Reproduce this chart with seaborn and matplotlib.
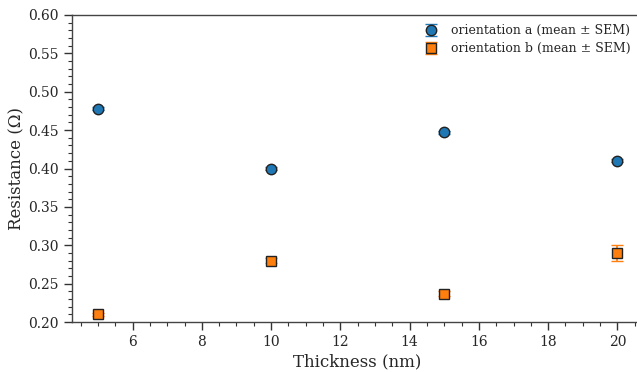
import numpy as np
import matplotlib
matplotlib.use("Agg")
import matplotlib.pyplot as plt
import seaborn as sns
from matplotlib.ticker import AutoMinorLocator

# data
thickness = [5, 10, 15, 20]
res_a = [0.478, 0.400, 0.447, 0.410]
sem_a = [0.002, 0.002, 0.002, 0.002]
res_b = [0.210, 0.280, 0.237, 0.290]
sem_b = [0.002, 0.003, 0.003, 0.010]

sns.set_theme(style="ticks")
plt.rcParams['font.family'] = ['DejaVu Serif']
plt.rcParams['mathtext.fontset'] = 'dejavuserif'

fig = plt.figure(figsize=(6.37, 3.72), dpi=100)
ax = fig.add_axes([0.113, 0.134, 0.897, 0.826])

colors = sns.color_palette("tab10")
ax.errorbar(thickness, res_a, yerr=sem_a, fmt='o', color=colors[0], ms=7.5,
            mec='#222222', mew=1.0, capsize=4, elinewidth=1.2, ecolor=colors[0],
            label='orientation a (mean ± SEM)', zorder=3)
ax.errorbar(thickness, res_b, yerr=sem_b, fmt='s', color=colors[1], ms=7.5,
            mec='#222222', mew=1.0, capsize=4, elinewidth=1.2, ecolor=colors[1],
            label='orientation b (mean ± SEM)', zorder=3)

ax.set_xlim(4.25, 20.75)
ax.set_ylim(0.20, 0.60)
ax.set_yticks(np.arange(0.20, 0.601, 0.05))
ax.set_xticks([6, 8, 10, 12, 14, 16, 18, 20])
ax.xaxis.set_minor_locator(AutoMinorLocator(4))
ax.yaxis.set_minor_locator(AutoMinorLocator(5))
ax.tick_params(which='major', length=6, width=1, labelsize=10, color='#333333')
ax.tick_params(which='minor', length=3, width=0.8, color='#333333')

for s in ax.spines.values():
    s.set_color('#444444')
    s.set_linewidth(1.0)

ax.set_xlabel('Thickness (nm)', fontsize=12, labelpad=3)
ax.set_ylabel('Resistance (Ω)', fontsize=12)
ax.yaxis.set_label_coords(-0.082, 0.5)

ax.legend(loc='upper right', frameon=False, fontsize=9, bbox_to_anchor=(0.998, 1.006),
          handletextpad=0.6, labelspacing=0.4)

fig.savefig('out.png', dpi=100)
